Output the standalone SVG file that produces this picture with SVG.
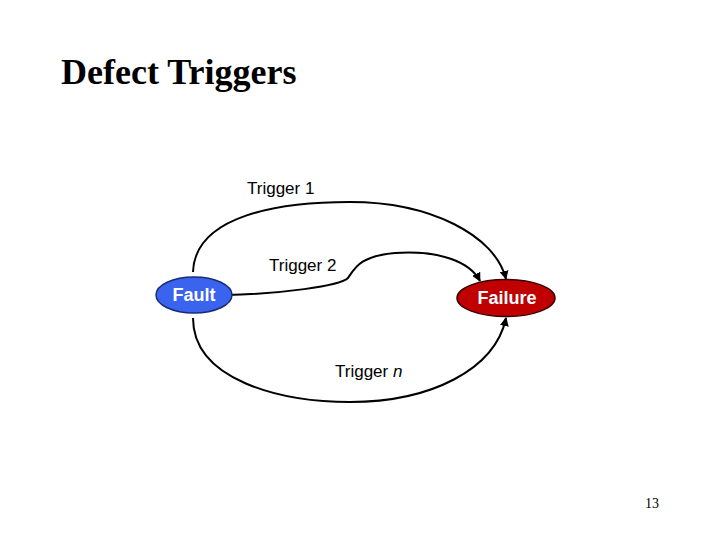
<svg xmlns="http://www.w3.org/2000/svg" width="720" height="540" viewBox="0 0 720 540">
<style>
.lbl{font-family:"Liberation Sans",Arial,sans-serif;font-size:17px;fill:#000}
.nlbl{font-family:"Liberation Sans",Arial,sans-serif;font-size:18px;font-weight:bold;fill:#fff;text-anchor:middle}
.conn{fill:none;stroke:#000;stroke-width:2}
</style>
<defs>
<marker id="arr" viewBox="0 0 10 10" refX="9" refY="5" markerWidth="9" markerHeight="9" markerUnits="userSpaceOnUse" orient="auto">
<path d="M0,0 L10,5 L0,10 z" fill="#000"/>
</marker>
</defs>
<rect width="720" height="540" fill="#fff"/>
<text x="61" y="84" font-family="Liberation Serif,'Times New Roman',serif" font-size="36" font-weight="bold" fill="#000">Defect Triggers</text>
<g id="connectors">
<path class="conn" marker-end="url(#arr)" d="M193,272 C195,215 280,202 350,202 C430,202 495,235 506,279"/>
<path class="conn" marker-end="url(#arr)" d="M226,295 C280,294 340,286 348,278 C355,268 360,256 395,253 C440,250 470,262 480,281"/>
<path class="conn" marker-end="url(#arr)" d="M193,318 C193,380 280,402 350,402 C430,402 495,370 506,318"/>
</g>
<g id="fault">
<ellipse cx="194" cy="295" rx="38" ry="18" fill="#3a64ee" stroke="#1b2b7a" stroke-width="1.5"/>
<text class="nlbl" x="194" y="301">Fault</text>
</g>
<g id="failure">
<ellipse cx="506" cy="298" rx="49" ry="18.5" fill="#c00000" stroke="#3a0000" stroke-width="1.5"/>
<text class="nlbl" x="507" y="304">Failure</text>
</g>
<text class="lbl" x="247" y="194">Trigger 1</text>
<text class="lbl" x="269" y="271">Trigger 2</text>
<text class="lbl" x="335" y="377">Trigger <tspan font-style="italic">n</tspan></text>
<text x="645" y="508" font-family="Liberation Serif,'Times New Roman',serif" font-size="14" fill="#000">13</text>
</svg>
